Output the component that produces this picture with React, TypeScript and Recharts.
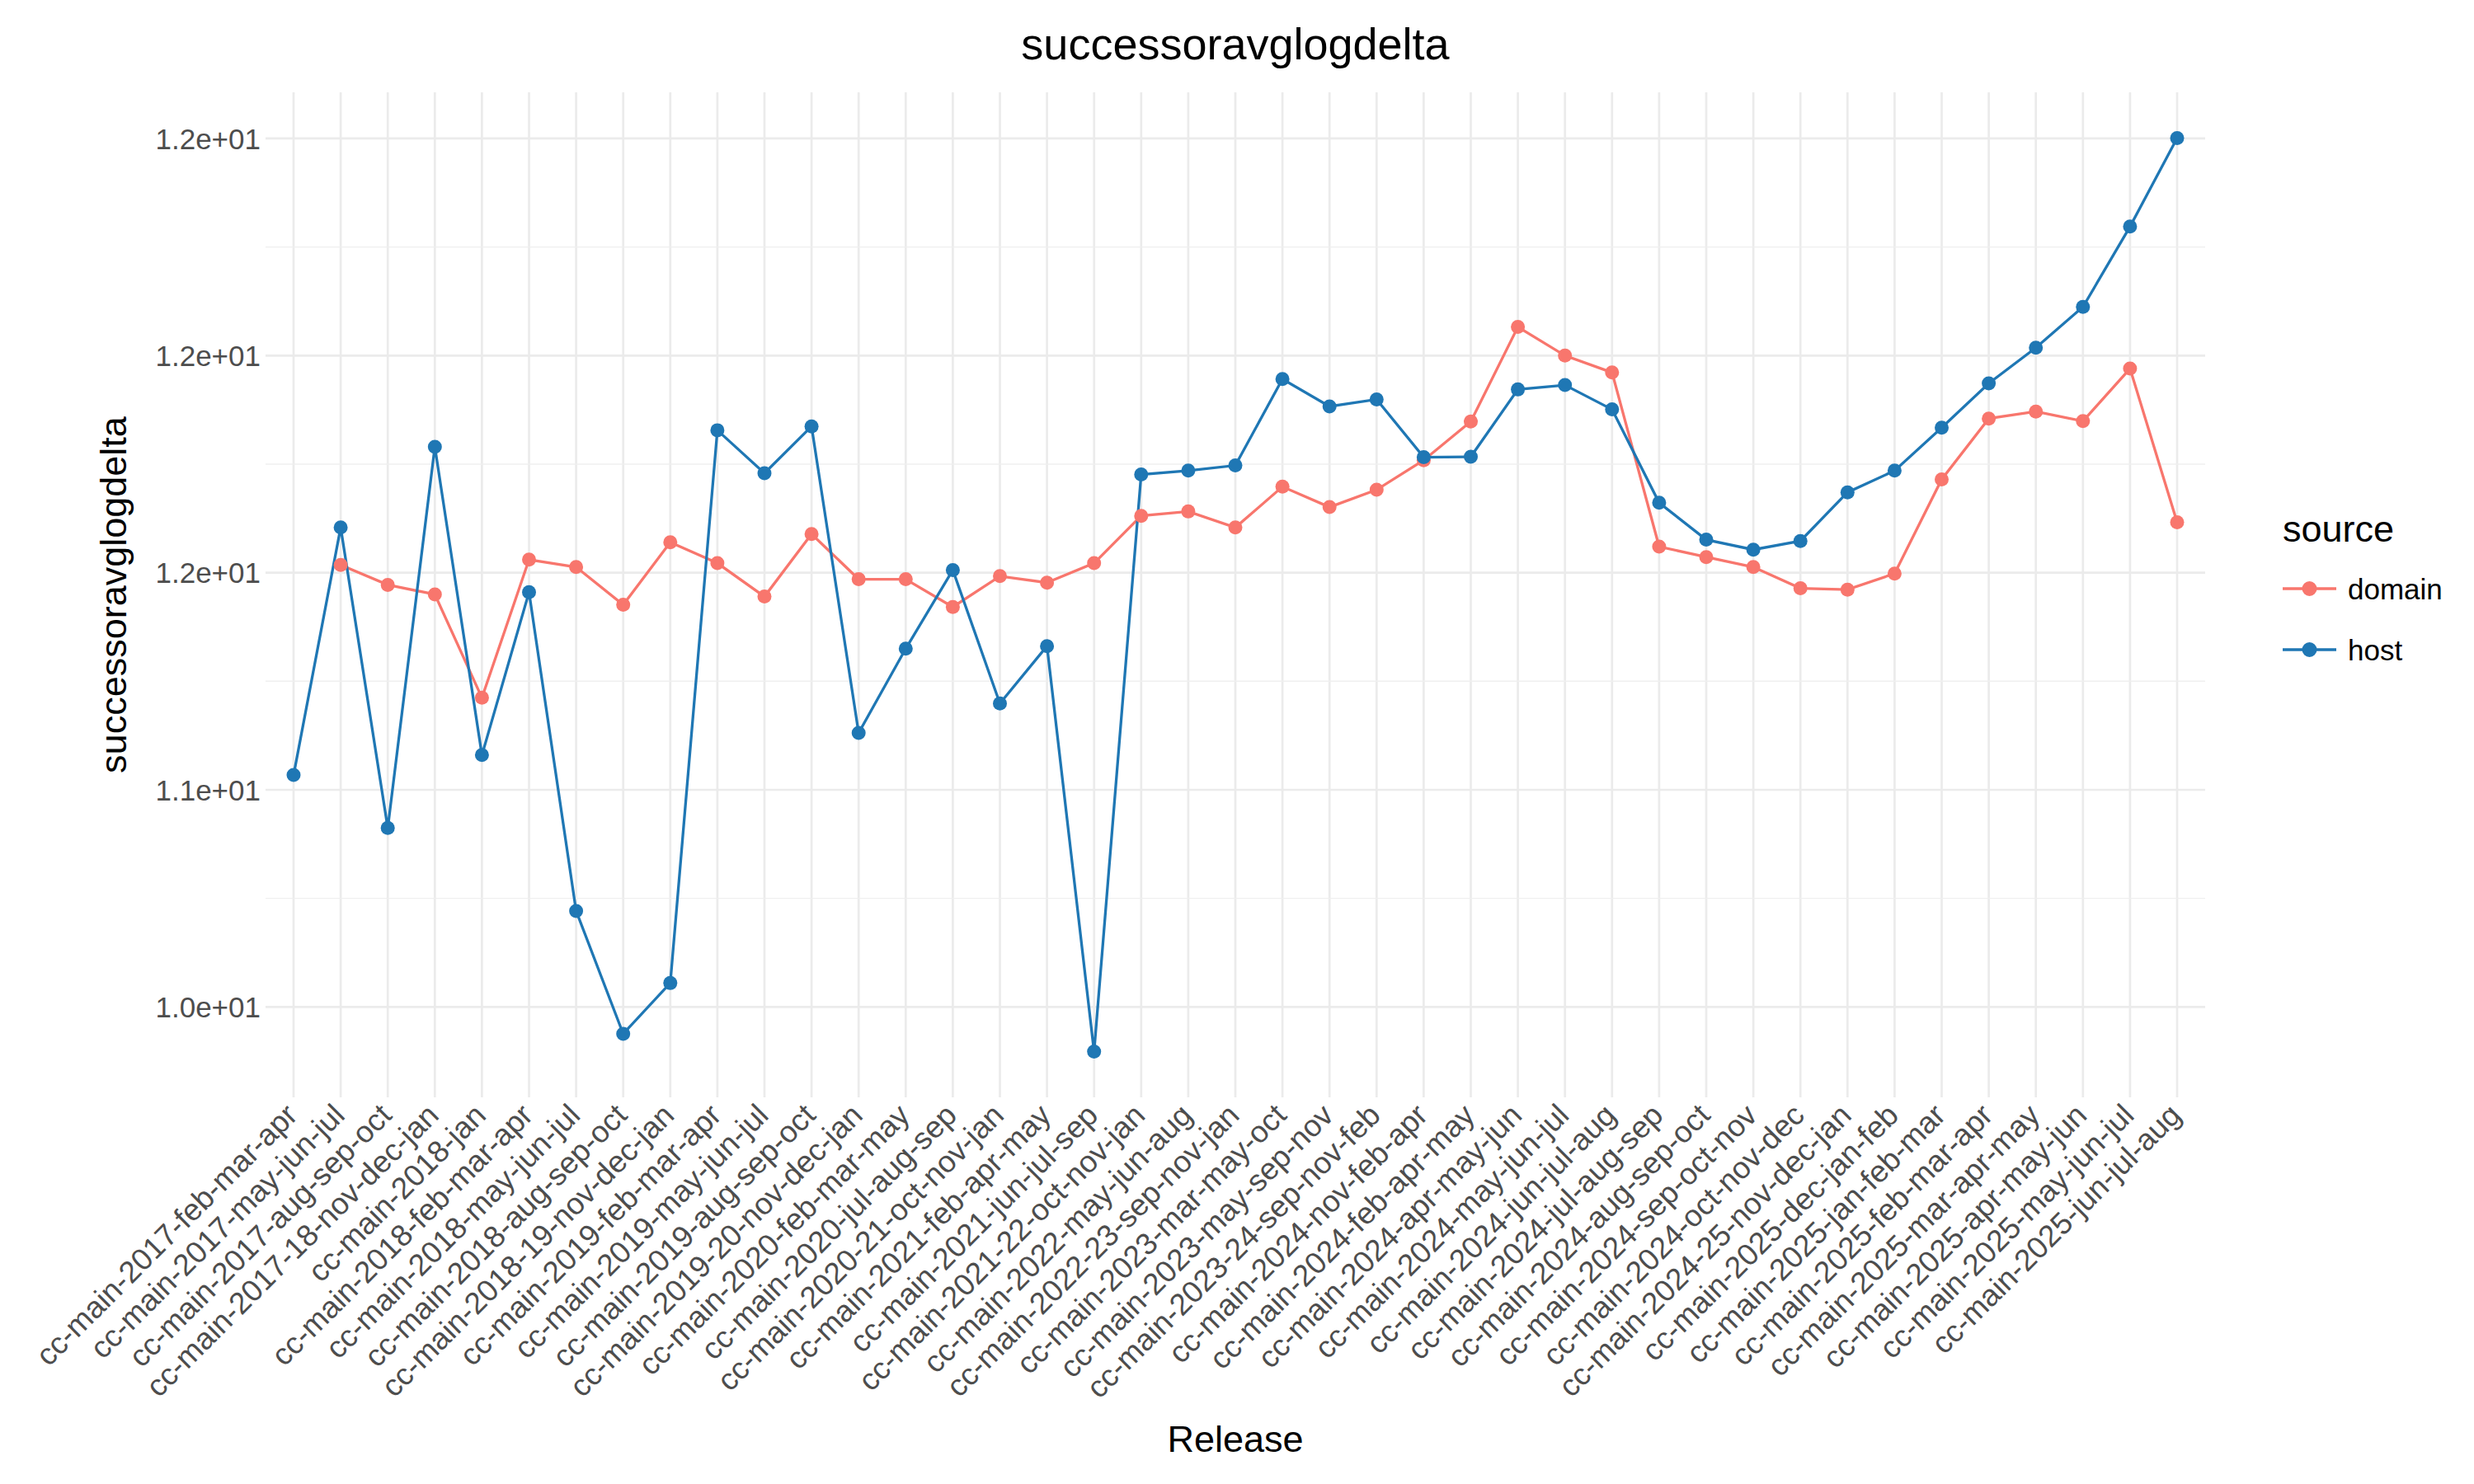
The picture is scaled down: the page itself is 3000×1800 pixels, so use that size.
import React from "react";
import { LineChart, Line, XAxis, YAxis, CartesianGrid, ReferenceLine } from "recharts";

const categories = [
  "cc-main-2017-feb-mar-apr", "cc-main-2017-may-jun-jul", "cc-main-2017-aug-sep-oct", "cc-main-2017-18-nov-dec-jan",
  "cc-main-2018-jan", "cc-main-2018-feb-mar-apr", "cc-main-2018-may-jun-jul", "cc-main-2018-aug-sep-oct",
  "cc-main-2018-19-nov-dec-jan", "cc-main-2019-feb-mar-apr", "cc-main-2019-may-jun-jul", "cc-main-2019-aug-sep-oct",
  "cc-main-2019-20-nov-dec-jan", "cc-main-2020-feb-mar-may", "cc-main-2020-jul-aug-sep", "cc-main-2020-21-oct-nov-jan",
  "cc-main-2021-feb-apr-may", "cc-main-2021-jun-jul-sep", "cc-main-2021-22-oct-nov-jan", "cc-main-2022-may-jun-aug",
  "cc-main-2022-23-sep-nov-jan", "cc-main-2023-mar-may-oct", "cc-main-2023-may-sep-nov", "cc-main-2023-24-sep-nov-feb",
  "cc-main-2024-nov-feb-apr", "cc-main-2024-feb-apr-may", "cc-main-2024-apr-may-jun", "cc-main-2024-may-jun-jul",
  "cc-main-2024-jun-jul-aug", "cc-main-2024-jul-aug-sep", "cc-main-2024-aug-sep-oct", "cc-main-2024-sep-oct-nov",
  "cc-main-2024-oct-nov-dec", "cc-main-2024-25-nov-dec-jan", "cc-main-2025-dec-jan-feb", "cc-main-2025-jan-feb-mar",
  "cc-main-2025-feb-mar-apr", "cc-main-2025-mar-apr-may", "cc-main-2025-apr-may-jun", "cc-main-2025-may-jun-jul",
  "cc-main-2025-jun-jul-aug",
];

const domainValues: (number | null)[] = [
  null, 11.518, 11.472, 11.45, 11.212, 11.53, 11.513, 11.426, 11.57, 11.522,
  11.445, 11.589, 11.485, 11.485, 11.421, 11.492, 11.477, 11.522, 11.631, 11.641,
  11.604, 11.698, 11.651, 11.691, 11.759, 11.848, 12.066, 12.0, 11.961, 11.56,
  11.536, 11.513, 11.464, 11.461, 11.498, 11.715, 11.855, 11.871, 11.849, 11.97,
  11.616,
];

const hostValues: number[] = [
  11.034, 11.604, 10.912, 11.79, 11.08, 11.455, 10.721, 10.438, 10.555, 11.828,
  11.729, 11.837, 11.131, 11.325, 11.506, 11.199, 11.331, 10.397, 11.726, 11.735,
  11.747, 11.946, 11.883, 11.899, 11.766, 11.767, 11.922, 11.932, 11.876, 11.661,
  11.576, 11.553, 11.573, 11.685, 11.735, 11.834, 11.936, 12.018, 12.112, 12.297,
  12.501,
];

const yTicks = [10.5, 11, 11.5, 12, 12.5];
const yTickLabels = ["1.0e+01", "1.1e+01", "1.2e+01", "1.2e+01", "1.2e+01"];
const yMinorTicks = [10.75, 11.25, 11.75, 12.25];

const series = [
  { key: "domain", name: "domain", color: "#F8766D" },
  { key: "host", name: "host", color: "#1F77B4" },
];

const TITLE = "successoravglogdelta";
const X_TITLE = "Release";
const Y_TITLE = "successoravglogdelta";
const LEGEND_TITLE = "source";

const data = categories.map((c, i) => ({ release: c, domain: domainValues[i], host: hostValues[i] }));

const allVals = [...hostValues, ...(domainValues.filter((v) => v !== null) as number[])];
const dMin = Math.min(...allVals);
const dMax = Math.max(...allVals);
const pad = (dMax - dMin) * 0.05;

const FONT = "'Liberation Sans', Arial, Helvetica, sans-serif";
const W = 3000;
const H = 1800;
const Y_AXIS_W = 100;
const X_AXIS_H = 100;
const PLOT = { left: 322, top: 112, right: 2674, bottom: 1331 };
const M = { top: PLOT.top, left: PLOT.left - Y_AXIS_W, right: W - PLOT.right, bottom: H - PLOT.bottom - X_AXIS_H };

const XTick = (props: any) => {
  const { x, y, payload } = props;
  return (
    <g transform={`translate(${x - 12},${y - 4})`}>
      <text x={0} y={0} dy="0.72em" textAnchor="end" transform="rotate(-45)" fill="#4D4D4D" fontSize={37} fontFamily={FONT}>
        {payload.value}
      </text>
    </g>
  );
};

const YTick = (props: any) => {
  const { x, y, index } = props;
  return (
    <text x={x} y={y} dy="0.36em" textAnchor="end" fill="#4D4D4D" fontSize={35} fontFamily={FONT}>
      {yTickLabels[index]}
    </text>
  );
};

export default function App() {
  const plotCx = (PLOT.left + PLOT.right) / 2;
  const plotCy = (PLOT.top + PLOT.bottom) / 2;
  return (
    <div style={{ position: "absolute", left: 0, top: 0, width: W, height: H, background: "#fff" }}>
      <LineChart width={W} height={H} data={data} margin={M}>
        <CartesianGrid stroke="#EBEBEB" strokeWidth={2.7} vertical={true} horizontal={true} syncWithTicks={true} />
        {yMinorTicks.map((v) => (
          <ReferenceLine key={v} y={v} stroke="#EFEFEF" strokeWidth={1.4} />
        ))}
        <XAxis
          dataKey="release"
          type="category"
          interval={0}
          height={X_AXIS_H}
          axisLine={false}
          tickLine={false}
          tickSize={0}
          tickMargin={9}
          padding={{ left: 34, right: 34 }}
          tick={<XTick />}
        />
        <YAxis
          type="number"
          domain={[dMin - pad, dMax + pad]}
          ticks={yTicks}
          width={Y_AXIS_W}
          axisLine={false}
          tickLine={false}
          tickSize={0}
          tickMargin={6}
          allowDataOverflow={true}
          tick={<YTick />}
        />
        {series.map((s) => (
          <Line
            key={s.key}
            type="linear"
            dataKey={s.key}
            stroke={s.color}
            strokeWidth={3.3}
            dot={{ r: 8.5, fill: s.color, stroke: "none" }}
            activeDot={false}
            isAnimationActive={false}
          />
        ))}
      </LineChart>
      <svg width={W} height={H} style={{ position: "absolute", left: 0, top: 0, pointerEvents: "none" }}>
        <text x={plotCx} y={72} textAnchor="middle" fontSize={54} fontFamily={FONT} fill="#000">
          {TITLE}
        </text>
        <text x={plotCx} y={1761} textAnchor="middle" fontSize={45} fontFamily={FONT} fill="#000">
          {X_TITLE}
        </text>
        <text
          x={137}
          y={plotCy}
          dy="0.35em"
          textAnchor="middle"
          transform={`rotate(-90, 137, ${plotCy})`}
          fontSize={45}
          fontFamily={FONT}
          fill="#000"
        >
          {Y_TITLE}
        </text>
        <text x={2768} y={657} fontSize={45} fontFamily={FONT} fill="#000">
          {LEGEND_TITLE}
        </text>
        {series.map((s, i) => {
          const cy = 714 + i * 74;
          return (
            <g key={s.key}>
              <line x1={2768} x2={2833} y1={cy} y2={cy} stroke={s.color} strokeWidth={3.3} />
              <circle cx={2800.5} cy={cy} r={9} fill={s.color} />
              <text x={2847} y={cy} dy="0.36em" fontSize={35} fontFamily={FONT} fill="#000">
                {s.name}
              </text>
            </g>
          );
        })}
      </svg>
    </div>
  );
}
